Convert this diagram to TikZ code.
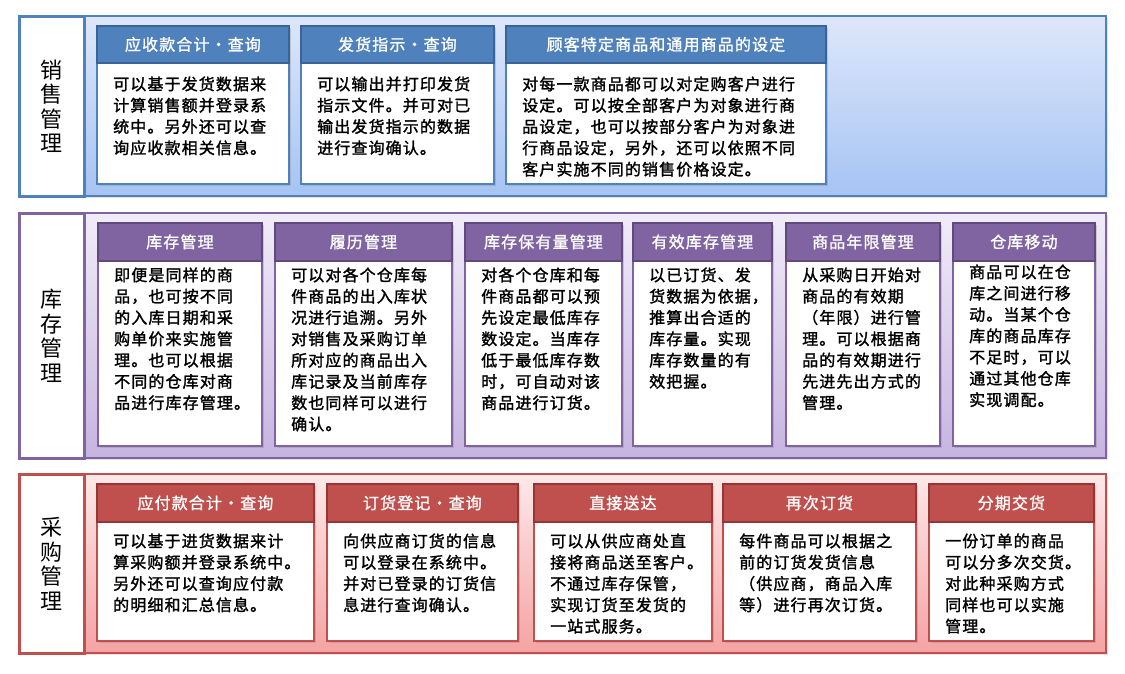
\documentclass[tikz,border=0pt]{standalone}
\usepackage{fontspec}
\newfontfamily\cjkbody[LetterSpace=7,FakeBold=1.6]{Noto Sans CJK SC}
\newfontfamily\cjkhdr[LetterSpace=7,FakeBold=1.2]{Noto Sans CJK SC}
\newfontfamily\cjklabel{Noto Sans CJK SC}
\usetikzlibrary{shadows}
\definecolor{bmain}{HTML}{4F81BD}
\definecolor{bdark}{HTML}{3A6397}
\definecolor{btop}{HTML}{DDE7FA}
\definecolor{bbot}{HTML}{A6C3F3}
\definecolor{pmain}{HTML}{8064A2}
\definecolor{pdark}{HTML}{5F4A7B}
\definecolor{ptop}{HTML}{F1ECF8}
\definecolor{pbot}{HTML}{C6B4E0}
\definecolor{rmain}{HTML}{C0504D}
\definecolor{rdark}{HTML}{943634}
\definecolor{rtop}{HTML}{FDE9E9}
\definecolor{rbot}{HTML}{F4A3A3}
\tikzset{
  band/.style={draw=#1main, line width=2.2pt, top color=#1top, bottom color=#1bot,
    drop shadow={opacity=0.22, shadow xshift=2pt, shadow yshift=-2pt},
    inner sep=0pt, anchor=north west},
  sidelabel/.style={draw=#1main, fill=white, line width=2.6pt,
    font=\cjklabel\fontsize{22}{24.5}\selectfont, align=center, inner sep=0pt, anchor=north west},
  boxo/.style={draw=#1main, fill=white, line width=2.2pt, inner sep=0pt, anchor=north west,
    drop shadow={opacity=0.3, shadow xshift=1.5pt, shadow yshift=-1.5pt}},
  hdr/.style={draw=#1dark, fill=#1main, line width=1.8pt, text=white,
    font=\cjkhdr\fontsize{16}{18}\selectfont, inner sep=0pt, anchor=north west},
  btext/.style={font=\cjkbody\fontsize{16}{21.3}\selectfont, align=left, inner sep=0pt,
    anchor=north west, text=black},
}
% #1 name, #2 colour letter, #3 x left, #4 x right, #5 y top, #6 y header bottom, #7 y bottom, #8 header, #9 body
\newcommand\featbox[9]{%
  \node[boxo=#2, minimum width={#4-#3}, minimum height={#7-#5}] (#1) at (#3,#5) {};
  \node[hdr=#2, minimum width={#4-#3}, minimum height={#6-#5}] (#1h) at (#3,#5) {#8};
  \node[btext] (#1t) at ([xshift=17pt, yshift=-\textoff]#1h.south west) {#9};
}
\begin{document}
\begin{tikzpicture}[x=1pt,y=-1pt]
\useasboundingbox (0,0) rectangle (1125,673);
\fill[white] (0,0) rectangle (1125,673);

% ---------- sales ----------
\node[band=b, minimum width=1087, minimum height=180] (bandS) at (18,15) {};
\node[sidelabel=b, minimum width=65, minimum height=180] (labS) at (18,15) {销\\售\\管\\理};
\def\textoff{12.5pt}
\featbox{s1}{b}{96}{288}{25}{62}{183}{应收款合计・查询}{可以基于发货数据来\\计算销售额并登录系\\统中。另外还可以查\\询应收款相关信息。}
\featbox{s2}{b}{300}{493}{25}{62}{183}{发货指示・查询}{可以输出并打印发货\\指示文件。并可对已\\输出发货指示的数据\\进行查询确认。}
\featbox{s3}{b}{505}{825}{25}{62}{183}{顾客特定商品和通用商品的设定}{对每一款商品都可以对定购客户进行\\设定。可以按全部客户为对象进行商\\品设定，也可以按部分客户为对象进\\行商品设定，另外，还可以依照不同\\客户实施不同的销售价格设定。}

% ---------- stock ----------
\node[band=p, minimum width=1087, minimum height=245] (bandK) at (18,212) {};
\node[sidelabel=p, minimum width=65, minimum height=245] (labK) at (18,212) {库\\存\\管\\理};
\def\textoff{5.5pt}
\featbox{k1}{p}{97}{261}{222}{260}{445}{库存管理}{即便是同样的商\\品，也可按不同\\的入库日期和采\\购单价来实施管\\理。也可以根据\\不同的仓库对商\\品进行库存管理。}
\featbox{k2}{p}{274}{451}{222}{260}{445}{履历管理}{可以对各个仓库每\\件商品的出入库状\\况进行追溯。另外\\对销售及采购订单\\所对应的商品出入\\库记录及当前库存\\数也同样可以进行\\确认。}
\featbox{k3}{p}{464}{621}{222}{260}{445}{库存保有量管理}{对各个仓库和每\\件商品都可以预\\先设定最低库存\\数设定。当库存\\低于最低库存数\\时，可自动对该\\商品进行订货。}
\featbox{k4}{p}{632}{771}{222}{260}{445}{有效库存管理}{以已订货、发\\货数据为依据，\\推算出合适的\\库存量。实现\\库存数量的有\\效把握。}
\featbox{k5}{p}{785}{939}{222}{260}{445}{商品年限管理}{从采购日开始对\\商品的有效期\\（年限）进行管\\理。可以根据商\\品的有效期进行\\先进先出方式的\\管理。}
\def\textoff{2.5pt}
\featbox{k6}{p}{952}{1094}{222}{260}{445}{仓库移动}{商品可以在仓\\库之间进行移\\动。当某个仓\\库的商品库存\\不足时，可以\\通过其他仓库\\实现调配。}

% ---------- purchase ----------
\node[band=r, minimum width=1087, minimum height=179] (bandP) at (18,473) {};
\node[sidelabel=r, minimum width=65, minimum height=179] (labP) at (18,473) {采\\购\\管\\理};
\def\textoff{10.5pt}
\featbox{p1}{r}{96}{313}{483}{521}{640}{应付款合计・查询}{可以基于进货数据来计\\算采购额并登录系统中。\\另外还可以查询应付款\\的明细和汇总信息。}
\featbox{p2}{r}{326}{517}{483}{521}{640}{订货登记・查询}{向供应商订货的信息\\可以登录在系统中。\\并对已登录的订货信\\息进行查询确认。}
\featbox{p3}{r}{533}{711}{483}{521}{640}{直接送达}{可以从供应商处直\\接将商品送至客户。\\不通过库存保管，\\实现订货至发货的\\一站式服务。}
\featbox{p4}{r}{722}{915}{483}{521}{640}{再次订货}{每件商品可以根据之\\前的订货发货信息\\（供应商，商品入库\\等）进行再次订货。}
\featbox{p5}{r}{928}{1093}{483}{521}{640}{分期交货}{一份订单的商品\\可以分多次交货。\\对此种采购方式\\同样也可以实施\\管理。}
\end{tikzpicture}
\end{document}
